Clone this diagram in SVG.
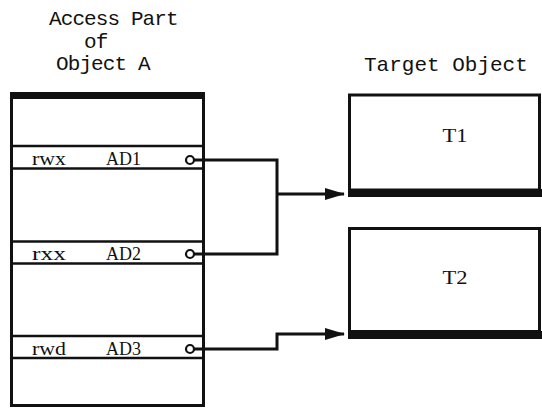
<svg xmlns="http://www.w3.org/2000/svg" width="542" height="408" viewBox="0 0 542 408">
<defs>
<style>
.hdr{font-family:"Liberation Mono","Courier New",monospace;font-size:21px;fill:#111}
.lbl{font-family:"Liberation Serif","Times New Roman",serif;font-size:19px;fill:#111}
.box{fill:#fff;stroke:#111;stroke-width:3}
.bar{fill:#111}
.row{stroke:#111;stroke-width:2.5}
.con{fill:none;stroke:#111;stroke-width:3}
.dot{fill:#fff;stroke:#111;stroke-width:2.2}
</style>
<marker id="ah" markerWidth="20" markerHeight="14" viewBox="0 0 20 14" refX="19" refY="7" orient="auto" markerUnits="userSpaceOnUse">
<path d="M0,1 L20,7 L0,13 Z" fill="#111"/>
</marker>
</defs>
<rect width="542" height="408" fill="#fff"/>
<g id="titles">
<text class="hdr" x="49" y="25" letter-spacing="-0.9">Access Part</text>
<text class="hdr" x="84" y="48" letter-spacing="-0.9">of</text>
<text class="hdr" x="56" y="70" letter-spacing="-0.9">Object A</text>
<text class="hdr" x="364" y="71">Target Object</text>
</g>
<g id="objectA">
<rect class="box" x="11.5" y="96" width="192" height="309.5"/>
<rect class="bar" x="10" y="92" width="195" height="7"/>
<g id="row1">
<line class="row" x1="11" y1="146" x2="204" y2="146"/>
<line class="row" x1="11" y1="168.5" x2="204" y2="168.5"/>
<text class="lbl" x="32" y="165" textLength="34" lengthAdjust="spacingAndGlyphs">rwx</text>
<text class="lbl" x="106" y="165" textLength="35" lengthAdjust="spacingAndGlyphs">AD1</text>
</g>
<g id="row2">
<line class="row" x1="11" y1="241.5" x2="204" y2="241.5"/>
<line class="row" x1="11" y1="263.5" x2="204" y2="263.5"/>
<text class="lbl" x="32" y="260" textLength="34" lengthAdjust="spacingAndGlyphs">rxx</text>
<text class="lbl" x="106" y="260" textLength="35" lengthAdjust="spacingAndGlyphs">AD2</text>
</g>
<g id="row3">
<line class="row" x1="11" y1="336" x2="204" y2="336"/>
<line class="row" x1="11" y1="358" x2="204" y2="358"/>
<text class="lbl" x="32" y="355" textLength="34" lengthAdjust="spacingAndGlyphs">rwd</text>
<text class="lbl" x="106" y="355" textLength="35" lengthAdjust="spacingAndGlyphs">AD3</text>
</g>
</g>
<g id="T1">
<rect class="box" x="349.5" y="95" width="190" height="95"/>
<rect class="bar" x="348" y="189" width="194" height="8"/>
<text class="lbl" x="455" y="142" text-anchor="middle" textLength="25" lengthAdjust="spacingAndGlyphs">T1</text>
</g>
<g id="T2">
<rect class="box" x="349.5" y="228.5" width="190" height="103"/>
<rect class="bar" x="348" y="331" width="194" height="8"/>
<text class="lbl" x="455" y="284" text-anchor="middle" textLength="25" lengthAdjust="spacingAndGlyphs">T2</text>
</g>
<g id="connectors">
<path class="con" d="M194,160 H277 V254 H194"/>
<path class="con" d="M277,194 H344" marker-end="url(#ah)"/>
<path class="con" d="M194,349 H277 V334 H344" marker-end="url(#ah)"/>
<circle class="dot" cx="190" cy="160" r="4"/>
<circle class="dot" cx="190" cy="254" r="4"/>
<circle class="dot" cx="190" cy="349" r="4"/>
</g>
</svg>
